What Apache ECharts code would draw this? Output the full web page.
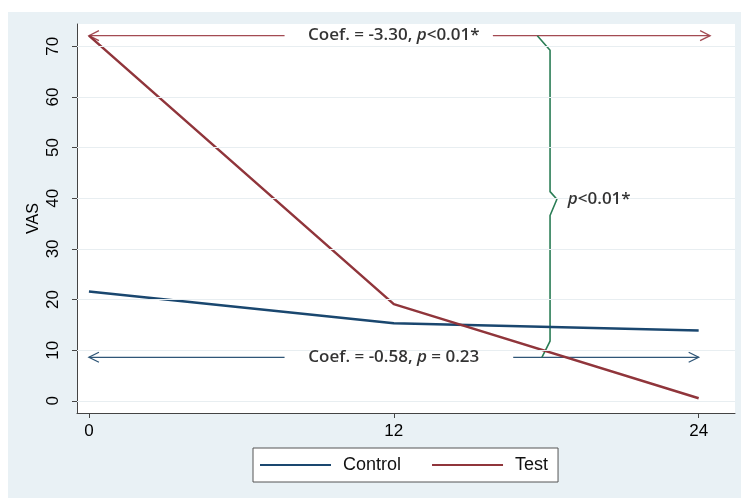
<!DOCTYPE html>
<html>
<head>
<meta charset="utf-8">
<script src="https://cdn.jsdelivr.net/npm/echarts@6/dist/echarts.min.js"></script>
<style>
  html, body { margin: 0; padding: 0; background: #ffffff; }
  #wrap { position: relative; width: 741px; height: 498px; background: #ffffff; overflow: hidden; }
  #bg { position: absolute; left: 8px; top: 12px; right: 0; bottom: 0; background: #e9f1f5; }
  #chart { position: absolute; left: 0; top: 0; width: 741px; height: 498px; }
</style>
</head>
<body>
<div id="wrap"><div id="bg"></div><div id="chart"></div></div>
<script>
// ---- data ----
const months = [0, 12, 24];
const controlVAS = [21.6, 15.3, 13.9];
const testVAS = [72.1, 19.1, 0.5];
const xTickValues = [0, 12, 24];
const yTickValues = [0, 10, 20, 30, 40, 50, 60, 70];

// annotation geometry in data units
const testArrowY = 72.1;
const testArrowLeft = [0, 7.7];
const testArrowRight = [15.9, 24.45];
const controlArrowY = 8.6;
const controlArrowLeft = [0, 7.7];
const controlArrowRight = [16.7, 24];
const bracketX = [17.65, 18.15, 18.15, 18.42, 18.15, 18.15, 17.83];
const bracketY = [72.1, 69.2, 41.3, 39.8, 36.6, 11.8, 8.6];
const testCoefText = ['Coef. = -3.30, ', 'p', '<0.01*'];
const controlCoefText = ['Coef. = -0.58, ', 'p', ' = 0.23'];
const diffText = ['p', '<0.01*'];
const textPos = { testCoef: [12, 72.1], controlCoef: [12, 8.6], diff: [18.85, 39.8] };

const NAVY = '#1a476f';
const MAROON = '#90353b';
const GREEN = '#2a7d55';

const leftChevron = 'path://M10,0 L0,5 L10,10';
const rightChevron = 'path://M0,0 L10,5 L0,10';

function arrowSeries(range, y, color, dir) {
  const pts = [[range[0], y], [range[1], y]];
  const data = pts.map((p, i) => {
    const isHead = (dir === 'left' && i === 0) || (dir === 'right' && i === 1);
    return isHead
      ? { value: p, symbol: dir === 'left' ? leftChevron : rightChevron, symbolSize: [10, 10],
          symbolOffset: dir === 'left' ? [5, 0] : [-5, 0] }
      : { value: p, symbol: 'none' };
  });
  return {
    type: 'line', data: data, showSymbol: true, silent: true, animation: false, z: 3,
    lineStyle: { color: color, width: 1.3 },
    itemStyle: { color: 'none', borderColor: color, borderWidth: 1.3 }
  };
}

function richLabel(parts) {
  return '{n|' + parts[0] + '}{i|' + parts[1] + '}{n|' + parts[2] + '}';
}
function richLabel2(parts) {
  return '{i|' + parts[0] + '}{n|' + parts[1] + '}';
}
const TXT = { fontFamily: 'Open Sans', fontSize: 17, fontWeight: 600, color: '#000' };
const richStyle = {
  n: Object.assign({}, TXT),
  i: Object.assign({}, TXT, { fontStyle: 'italic' })
};

function textSeries(pos, text, align) {
  return {
    type: 'scatter', data: [pos], symbolSize: 0, silent: true, animation: false, z: 5,
    label: Object.assign({ show: true, position: [0, 0], align: align, verticalAlign: 'middle',
      formatter: text, rich: richStyle }, TXT)
  };
}

const AX_FONT = 'Liberation Sans, Arial';
const chart = echarts.init(document.getElementById('chart'), null, { renderer: 'canvas' });
const option = {
  animation: false,
  grid: { left: 77, top: 24, right: 6, bottom: 85, show: true, backgroundColor: '#ffffff', borderWidth: 0 },
  legend: {
    data: ['Control', 'Test'],
    left: 253, top: 448,
    backgroundColor: '#ffffff', borderColor: '#555555', borderWidth: 1,
    padding: [8, 10, 8, 7],
    icon: 'rect', itemWidth: 71, itemHeight: 2, itemGap: 31,
    textStyle: { fontFamily: AX_FONT, fontSize: 18, color: '#111', padding: [0, 0, 0, 7] }
  },
  xAxis: {
    type: 'value', min: -0.47, max: 25.43,
    axisLine: { show: true, onZero: false, lineStyle: { color: '#444', width: 1 } },
    axisTick: { show: true, length: 5, customValues: xTickValues, lineStyle: { color: '#444' } },
    axisLabel: { customValues: xTickValues, margin: 10, fontFamily: AX_FONT, fontSize: 17, color: '#000' },
    splitLine: { show: false }
  },
  yAxis: {
    type: 'value', min: -2.4, max: 74.4,
    name: 'VAS', nameLocation: 'middle', nameGap: 35, nameMoveOverlap: false,
    nameTextStyle: { fontFamily: AX_FONT, fontSize: 16, color: '#000' },
    axisLine: { show: true, onZero: false, lineStyle: { color: '#444', width: 1 } },
    axisTick: { show: true, length: 5, customValues: yTickValues, lineStyle: { color: '#444' } },
    axisLabel: { customValues: yTickValues, rotate: 90, margin: 15, fontFamily: AX_FONT, fontSize: 17, color: '#000' },
    splitLine: { show: false }
  },
  series: [
    {
      type: 'line', data: [], silent: true, z: 1,
      markLine: {
        silent: true, symbol: 'none', label: { show: false },
        lineStyle: { color: '#e8eef1', width: 1, type: 'solid' },
        data: yTickValues.map(v => ({ yAxis: v }))
      }
    },
    {
      name: 'Control', type: 'line', data: months.map((m, i) => [m, controlVAS[i]]),
      showSymbol: false, symbol: 'none', z: 4,
      lineStyle: { color: NAVY, width: 2.5 }, itemStyle: { color: NAVY }
    },
    {
      name: 'Test', type: 'line', data: months.map((m, i) => [m, testVAS[i]]),
      showSymbol: false, symbol: 'none', z: 4,
      lineStyle: { color: MAROON, width: 2.5 }, itemStyle: { color: MAROON }
    },
    arrowSeries(testArrowLeft, testArrowY, '#a34a52', 'left'),
    arrowSeries(testArrowRight, testArrowY, '#a34a52', 'right'),
    arrowSeries(controlArrowLeft, controlArrowY, '#2f5677', 'left'),
    arrowSeries(controlArrowRight, controlArrowY, '#2f5677', 'right'),
    {
      type: 'line', data: bracketX.map((x, i) => [x, bracketY[i]]),
      showSymbol: false, symbol: 'none', silent: true, z: 3,
      lineStyle: { color: GREEN, width: 1.6 }
    },
    textSeries(textPos.testCoef, richLabel(testCoefText), 'center'),
    textSeries(textPos.controlCoef, richLabel(controlCoefText), 'center'),
    textSeries(textPos.diff, richLabel2(diffText), 'left')
  ]
};
chart.setOption(option);
</script>
</body>
</html>
